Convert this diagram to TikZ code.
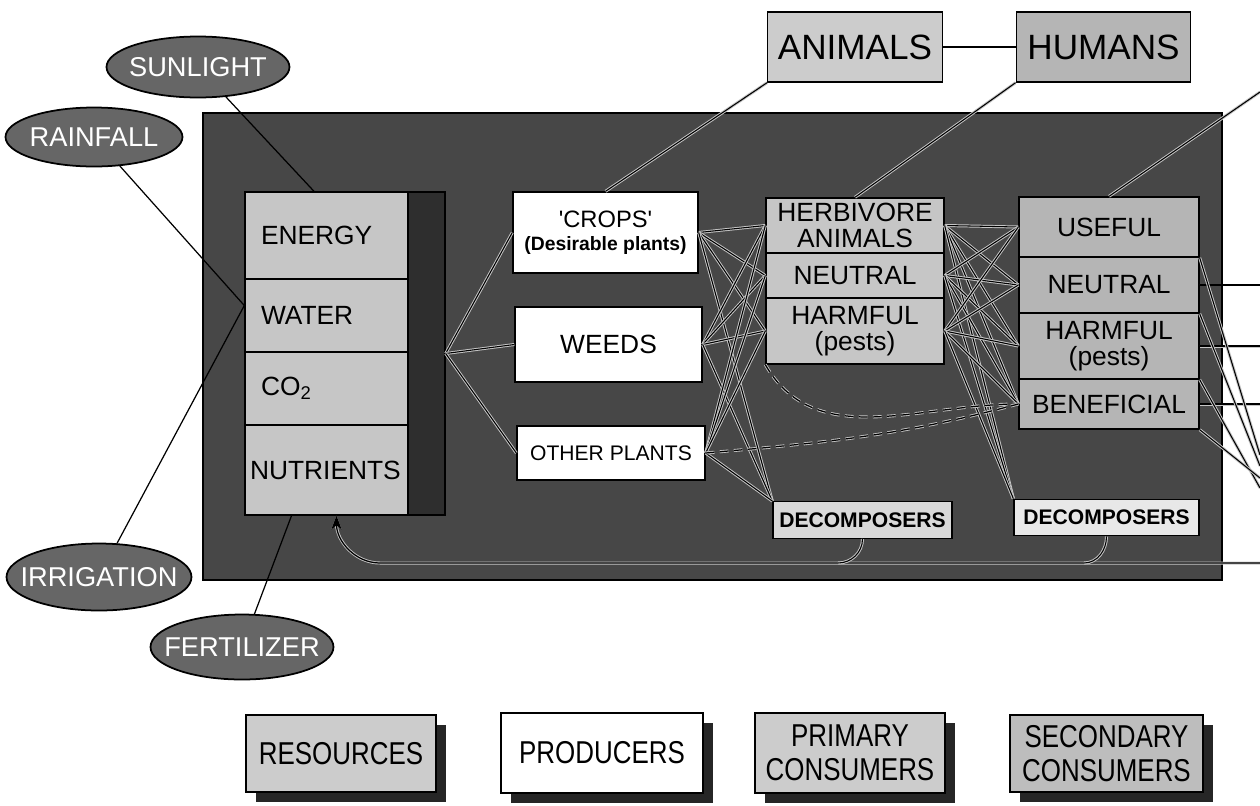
\documentclass[tikz,border=0pt]{standalone}
\usepackage{fontspec}
\setmainfont{Liberation Sans}
\newfontfamily\narrowsans[FakeStretch=0.82]{Liberation Sans}
\usetikzlibrary{shapes.geometric,arrows.meta,shadows}

\tikzset{
  cell/.style={draw=black, line width=0.8pt, fill=gray!45, inner sep=0pt,
    align=center, font=\fontsize{15}{14.5}\selectfont},
  rescell/.style={cell, minimum width=3.26cm, text width=2.62cm, inner xsep=0.32cm, align=left},
  primcell/.style={cell, minimum width=3.56cm},
  seccell/.style={cell, minimum width=3.6cm, fill=gray!58},
  resbox/.style={draw=black, line width=0.8pt, fill=black!82, minimum width=4cm, minimum height=6.46cm},
  plant/.style={draw=black, line width=0.8pt, fill=white, inner sep=0pt, align=center},
  decomp/.style={draw=black, line width=0.8pt, fill=gray!30, inner sep=0pt,
    minimum height=0.73cm, font=\fontsize{12}{14}\selectfont\bfseries},
  topbox/.style={draw=black, line width=0.8pt, minimum width=3.49cm, minimum height=1.4cm,
    inner sep=0pt, font=\fontsize{20}{22}\selectfont},
  source/.style={ellipse, draw=black, line width=1pt, fill=black!60, text=white,
    inner sep=0pt, font=\fontsize{15.5}{17}\selectfont},
  legend/.style={draw=black, line width=0.8pt, inner sep=0pt, align=center,
    font=\narrowsans\fontsize{18}{19.5}\selectfont,
    drop shadow={shadow xshift=0.2cm, shadow yshift=-0.2cm, fill=black!85, opacity=1}},
  wire/.style={black, line width=0.7pt},
  link/.style={black, line width=0.6pt, preaction={draw=gray!45, line width=1.7pt}},
  dashlink/.style={black, line width=0.7pt, dash pattern=on 5pt off 3pt,
    preaction={draw=gray!45, line width=1.7pt, dash pattern=on 5pt off 3pt}},
  recycle/.style={black, line width=0.7pt, preaction={draw=gray!45, line width=1.7pt},
    -{Stealth[length=8pt, width=6pt]}}
}

\begin{document}
\begin{tikzpicture}[x=0.02cm, y=-0.02cm]
\useasboundingbox (0,0) rectangle (1260,805);

% dark frame
\fill[black!72] (203,113) rectangle (1222,580);
\draw[line width=1pt] (203,113) rectangle (1222,580);

% resources
\node[resbox] (RESBOX) at (345,353.5) {};
\node[rescell, minimum height=1.74cm] (ENERGY) at (326.5,235.5) {ENERGY};
\node[rescell, minimum height=1.46cm] (WATER) at (326.5,315.5) {WATER};
\node[rescell, minimum height=1.46cm] (CO2) at (326.5,388.5) {CO\textsubscript{2}};
\node[rescell, minimum height=1.8cm, text width=3.06cm, inner xsep=0.1cm] (NUTRI) at (326.5,470) {NUTRIENTS};

% producers
\node[plant, minimum width=3.7cm, minimum height=1.62cm] (CROPS) at (605.5,232.5)
  {\fontsize{13.5}{15}\selectfont\textquotesingle CROPS\textquotesingle\\[1pt]
   \fontsize{11}{13}\selectfont\bfseries (Desirable plants)};
\node[plant, minimum width=3.74cm, minimum height=1.5cm, font=\fontsize{15}{17}\selectfont] (WEEDS) at (608.5,344.5) {WEEDS};
\node[plant, minimum width=3.76cm, minimum height=1.08cm, font=\fontsize{12}{14}\selectfont] (OTHER) at (611,453) {OTHER PLANTS};

% primary consumers
\node[primcell, minimum height=1.1cm] (HERB) at (855,225.5) {HERBIVORE\\ANIMALS};
\node[primcell, minimum height=0.9cm] (NEUT) at (855,275.5) {NEUTRAL};
\node[primcell, minimum height=1.32cm] (HARM) at (855,331) {HARMFUL\\(pests)};

% secondary consumers
\node[seccell, minimum height=1.2cm] (USEFUL) at (1109,227) {USEFUL};
\node[seccell, minimum height=1.12cm] (NEUT2) at (1109,285) {NEUTRAL};
\node[seccell, minimum height=1.32cm] (HARM2) at (1109,346) {HARMFUL\\(pests)};
\node[seccell, minimum height=1cm] (BENEF) at (1109,404) {BENEFICIAL};

% decomposers
\node[decomp, minimum width=3.58cm] (DEC1) at (862.5,520) {DECOMPOSERS};
\node[decomp, minimum width=3.7cm, fill=gray!18] (DEC2) at (1106.5,517.5) {DECOMPOSERS};

% animals and humans
\node[topbox, fill=gray!40] (ANIMALS) at (855,47) {ANIMALS};
\node[topbox, fill=gray!58] (HUMANS) at (1103.5,47) {HUMANS};

% outside inputs
\node[source, minimum width=3.66cm, minimum height=1.22cm] (SUN) at (198,67) {\makebox[0pt]{SUNLIGHT}};
\node[source, minimum width=3.54cm, minimum height=1.18cm] (RAIN) at (94,137) {\makebox[0pt]{RAINFALL}};
\node[source, minimum width=3.7cm, minimum height=1.34cm] (IRR) at (99,577) {\makebox[0pt]{IRRIGATION}};
\node[source, minimum width=3.66cm, minimum height=1.3cm] (FERT) at (242,647) {\makebox[0pt]{FERTILIZER}};

% legend
\node[legend, fill=gray!40, minimum width=3.8cm, minimum height=1.54cm] (LRES) at (341,753.5) {RESOURCES};
\node[legend, fill=white, minimum width=4.04cm, minimum height=1.6cm] (LPROD) at (602,753) {PRODUCERS};
\node[legend, fill=gray!40, minimum width=3.8cm, minimum height=1.6cm] (LPRIM) at (850,753) {PRIMARY\\CONSUMERS};
\node[legend, fill=gray!52, minimum width=3.86cm, minimum height=1.54cm] (LSEC) at (1106.5,753.5) {SECONDARY\\CONSUMERS};

% free ends at the right margin
\coordinate (outU) at (1260,92);
\coordinate (outN) at (1260,285);
\coordinate (outH) at (1260,346);
\coordinate (outB) at (1260,404);
\coordinate (outA) at (1260,455);
\coordinate (outC) at (1260,466);
\coordinate (outD) at (1260,478);
\coordinate (outE) at (1260,488);
\coordinate (recin) at (1260,563);
\coordinate (join1) at (838,563);
\coordinate (join2) at (1084,563);

% inputs to resources
\draw[wire] (SUN) -- ([xshift=-0.25cm]ENERGY.north);
\draw[wire] (RAIN) -- ([yshift=0.2cm]WATER.west);
\draw[wire] (IRR) -- ([yshift=0.2cm]WATER.west);
\draw[wire] (FERT) -- ([xshift=-0.7cm]NUTRI.south);

% food web
\foreach \p in {CROPS,WEEDS,OTHER}
  \draw[link] (RESBOX.east) -- (\p.west);
\foreach \p in {CROPS,WEEDS,OTHER}
  \foreach \c in {HERB.west,NEUT.west,HARM.west,DEC1.north west}
    \draw[link] (\p.east) -- (\c);
\foreach \p in {HERB,NEUT,HARM}
  \foreach \c in {USEFUL.west,NEUT2.west,HARM2.west,BENEF.west,DEC2.north west}
    \draw[link] (\p.east) -- (\c);
\draw[dashlink] (HARM.south west) to[out=-60,in=180] (BENEF.west);
\draw[dashlink] (OTHER.east) to[out=5,in=195] (BENEF.west);

% top links
\draw[wire] (ANIMALS) -- (HUMANS);
\draw[link] (ANIMALS.south west) -- (CROPS.north);
\draw[link] (HUMANS.south west) -- (HERB.north);
\draw[link] (USEFUL.north) -- (outU);

% links to the right
\draw[link] (NEUT2.east) -- (outN);
\draw[link] (HARM2.east) -- (outH);
\draw[link] (BENEF.east) -- (outB);
\draw[link] (USEFUL.south east) -- (outA);
\draw[link] (NEUT2.south east) -- (outC);
\draw[link] (HARM2.south east) -- (outE);
\draw[link] (BENEF.south east) -- (outD);

% nutrient recycling
\draw[recycle] (recin) -- (380,563) to[out=180,in=-90] ([xshift=0.2cm]NUTRI.south);
\draw[link] (DEC1.south) to[out=-90,in=0] (join1);
\draw[link] (DEC2.south) to[out=-90,in=0] (join2);
\end{tikzpicture}
\end{document}
